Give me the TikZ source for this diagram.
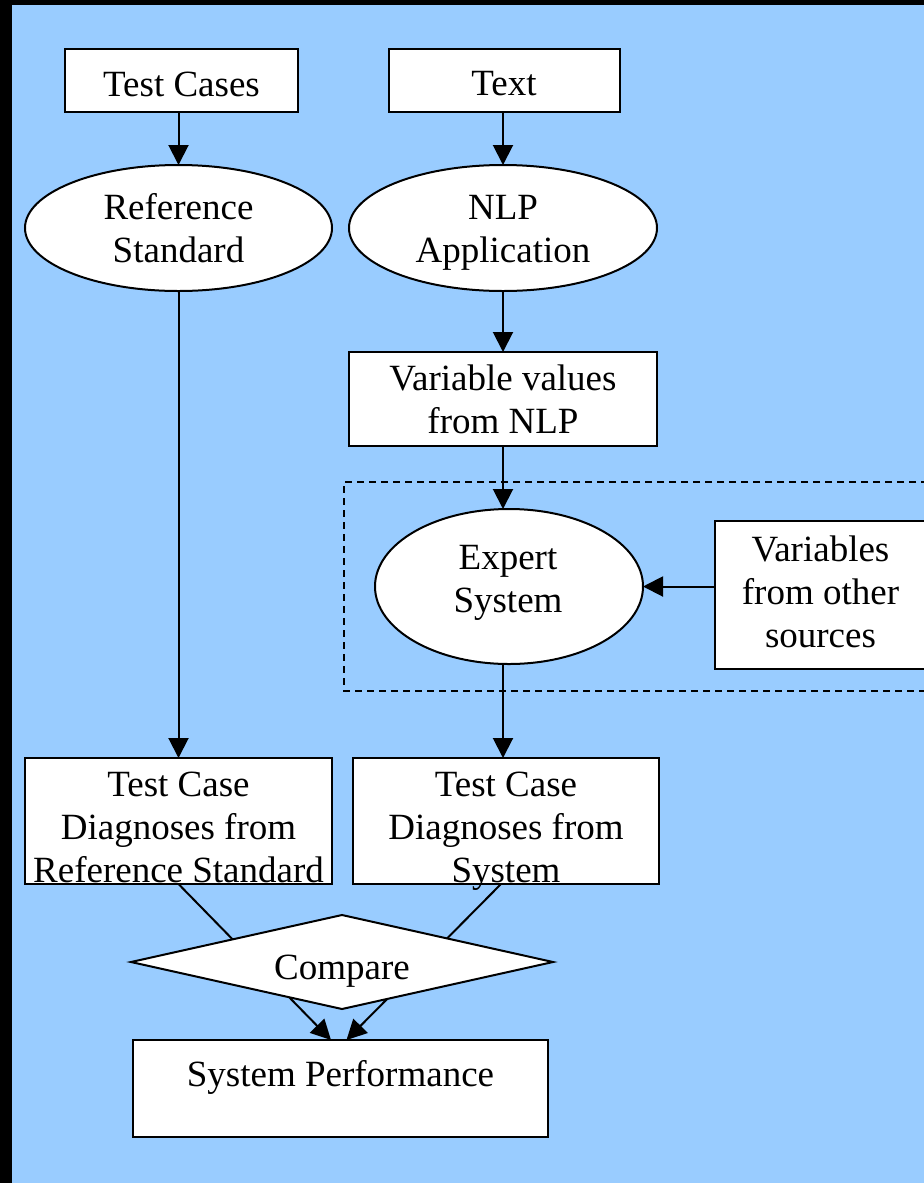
\documentclass[tikz,border=0pt]{standalone}
\usepackage{fontspec}
\setmainfont{Liberation Serif}
\usetikzlibrary{arrows.meta,shapes.geometric,calc}
\definecolor{bgblue}{RGB}{153,204,255}
\newcommand{\myline}[1]{\strut#1}
\begin{document}
\begin{tikzpicture}[x=1bp,y=-1bp,
  every node/.style={font=\fontsize{37bp}{43bp}\selectfont, align=center, inner sep=0bp, outer sep=0bp},
  box/.style={draw, fill=white, line width=2bp, rectangle},
  oval/.style={draw, fill=white, line width=2bp, ellipse},
  dia/.style={draw, fill=white, line width=2bp, diamond},
  arr/.style={line width=2bp, -{Triangle[length=20bp,width=20bp]}},
  grp/.style={line width=1.4bp, dash pattern=on 7bp off 5bp}]
\useasboundingbox (0,0) rectangle (924,1183);
\fill[bgblue] (0,0) rectangle (940,1190);
\fill[black] (0,0) rectangle (940,5);
\fill[black] (0,0) rectangle (12,1190);

% shapes
\node[box, minimum width=232bp, minimum height=63bp] (tc) at (181.5,80.5) {};
\node[box, minimum width=231bp, minimum height=63bp] (tx) at (504,80.5) {};
\node[oval, minimum width=307bp, minimum height=126bp] (ref) at (178.5,228) {};
\node[oval, minimum width=308bp, minimum height=126bp] (nlp) at (503,228) {};
\node[box, minimum width=308bp, minimum height=94bp] (vv) at (503,399) {};

\draw[grp] (940,482) -- (344,482) -- (344,691) -- (940,691);

\node[oval, minimum width=268bp, minimum height=155bp] (es) at (509,586.5) {};
\node[box, minimum width=212bp, minimum height=148bp] (vo) at (820.5,594.7) {};

\node[box, minimum width=306bp, minimum height=126bp] (d1) at (178.5,821) {};
\node[box, minimum width=306bp, minimum height=126bp] (d2) at (506,821) {};
\node[box, minimum width=415bp, minimum height=97bp] (sp) at (340.5,1088.5) {};

% texts
\node (tct) at (181.5,87.4) {\myline{Test Cases}};
\node (txt) at (504,86.4) {\myline{Text}};
\node (reft) at (178.5,232.4) {\myline{Reference}\\\myline{Standard}};
\node (nlpt) at (503,232.4) {\myline{NLP}\\\myline{Application}};
\node (vvt) at (503,403) {\myline{Variable values}\\\myline{from NLP}};
\node (est) at (508,582.5) {\myline{Expert}\\\myline{System}};
\node (vot) at (820.5,595.4) {\myline{Variables}\\\myline{from other}\\\myline{sources}};
\node (d1t) at (178.5,830.4) {\myline{Test Case}\\\myline{Diagnoses from}\\\myline{Reference Standard}};
\node (d2t) at (506,830.4) {\myline{Test Case}\\\myline{Diagnoses from}\\\myline{System}};
\node (spt) at (340.5,1078) {\myline{System Performance}};

% connectors
\draw[arr] (tc.south -| ref.north) -- (ref.north);
\draw[arr] (tx.south -| nlp.north) -- (nlp.north);
\draw[arr] (nlp.south) -- (vv.north);
\draw[arr] (vv.south) -- (vv.south |- es.north);
\draw[arr] (vo.west |- es.east) -- (es.east);
\draw[arr] (ref.south) -- (ref.south |- d1.north);
\draw[arr] (vv.south |- es.south) -- (vv.south |- d2.north);

\draw[arr] (d1.south) -- ([xshift=-9.5bp]sp.north);
\draw[arr] ([xshift=-5bp]d2.south) -- ([xshift=6bp]sp.north);

\node[dia, minimum width=422bp, minimum height=94bp] (cmp) at (342,962) {};
\node (cmpt) at (342,970.4) {\myline{Compare}};
\end{tikzpicture}
\end{document}
